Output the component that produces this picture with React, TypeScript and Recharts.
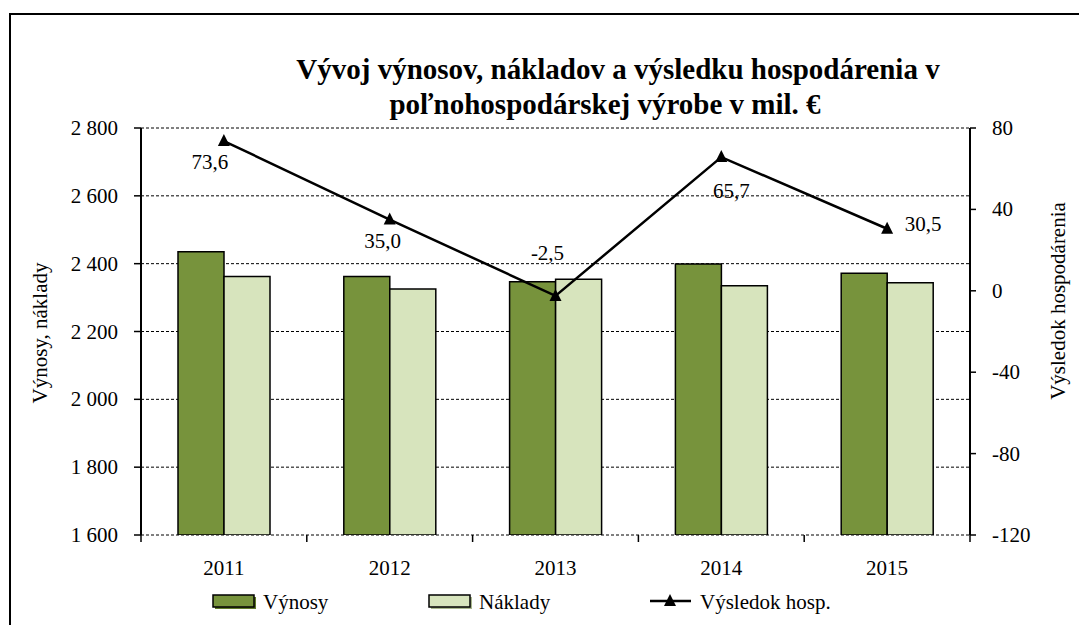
import React from 'react';
import { ComposedChart, Bar, Line, XAxis, YAxis, CartesianGrid, Legend, LabelList, Customized } from 'recharts';

const years = ['2011', '2012', '2013', '2014', '2015'];
const vynosy = [2435, 2362, 2347, 2399, 2372];
const naklady = [2362, 2325, 2354, 2335, 2344];
const vysledok = [73.6, 35.0, -2.5, 65.7, 30.5];
const leftTicks = [1600, 1800, 2000, 2200, 2400, 2600, 2800];
const rightTicks = [-120, -80, -40, 0, 40, 80];
const titleLines = ['Vývoj výnosov, nákladov a výsledku hospodárenia v', 'poľnohospodárskej výrobe v mil. €'];
const seriesNames = ['Výnosy', 'Náklady', 'Výsledok hosp.'];
const axisTitles = ['Výnosy, náklady', 'Výsledok hospodárenia'];

const data = years.map((y, i) => ({ year: y, vynosy: vynosy[i], naklady: naklady[i], vysledok: vysledok[i] }));

const FONT = 'Liberation Serif';
const FS = { fontFamily: FONT };
const W = 1079;
const H = 625;
const PLOT_LEFT = 141;
const PLOT_RIGHT = 970;
const PLOT_TOP = 128;
const PLOT_BOTTOM = 535;
const BAND = (PLOT_RIGHT - PLOT_LEFT) / years.length;
const DARK = '#77933C';
const LIGHT = '#D7E4BD';

const fmtThousands = (v: number) => {
  if (Math.abs(v) >= 1000) {
    const th = Math.floor(v / 1000);
    const rest = String(v % 1000).padStart(3, '0');
    return `${th} ${rest}`;
  }
  return String(v);
};

const fmtComma = (v: number) => v.toFixed(1).replace('.', ',');

const XTick = (props: any) => {
  const { x, index } = props;
  const left = x - BAND / 2;
  return (
    <g>
      <line x1={left} x2={left} y1={PLOT_BOTTOM} y2={PLOT_BOTTOM + 7} stroke="#000" strokeWidth={1.5} />
      {index === years.length - 1 && (
        <line x1={x + BAND / 2} x2={x + BAND / 2} y1={PLOT_BOTTOM} y2={PLOT_BOTTOM + 7} stroke="#000" strokeWidth={1.5} />
      )}
      <text x={x} y={PLOT_BOTTOM + 40} textAnchor="middle" style={FS} fontSize={21} fill="#000">
        {props.payload.value}
      </text>
    </g>
  );
};

const YTick = (props: any) => {
  const { x, y, payload, textAnchor, formatter } = props;
  return (
    <text x={x} y={y} dy={7} textAnchor={textAnchor} style={FS} fontSize={21} fill="#000">
      {formatter ? formatter(payload.value) : payload.value}
    </text>
  );
};

const labelOffsets = [
  [-14, 28],
  [-7, 28],
  [-8, -36],
  [10, 41],
  [36, 2],
];

const LineLabel = (props: any) => {
  const { x, y, index, value } = props;
  const [dx, dy] = labelOffsets[index] || [0, -10];
  return (
    <text x={x + dx} y={y + dy} textAnchor="middle" style={FS} fontSize={21} fill="#000">
      {fmtComma(value)}
    </text>
  );
};

const TriangleDot = (props: any) => {
  const { cx, cy, index } = props;
  if (cx == null || cy == null) return null;
  return <path key={`tri-${index}`} d={`M${cx},${cy - 7} L${cx + 6},${cy + 5} L${cx - 6},${cy + 5} Z`} fill="#000" />;
};

const LegendContent = () => {
  const boxY = 8;
  const textY = 22;
  return (
    <svg width={W} height={30} style={{ display: 'block' }}>
      <rect x={215} y={boxY + 2} width={41} height={12} fill="#5f7a2a" />
      <rect x={213} y={boxY} width={41} height={12} fill={DARK} stroke="#000" strokeWidth={1.5} />
      <text x={263} y={textY} style={FS} fontSize={21} fill="#000">{seriesNames[0]}</text>
      <rect x={431} y={boxY + 2} width={41} height={12} fill="#aab88f" />
      <rect x={429} y={boxY} width={41} height={12} fill={LIGHT} stroke="#000" strokeWidth={1.5} />
      <text x={479} y={textY} style={FS} fontSize={21} fill="#000">{seriesNames[1]}</text>
      <line x1={650} x2={691} y1={14} y2={14} stroke="#000" strokeWidth={2.5} />
      <path d={`M670,7 L676,19 L664,19 Z`} fill="#000" />
      <text x={700} y={textY} style={FS} fontSize={21} fill="#000">{seriesNames[2]}</text>
    </svg>
  );
};

const Titles = () => (
  <g>
    <text x={618} y={79} textAnchor="middle" style={FS} fontSize={29} fontWeight="bold" fill="#000">
      {titleLines[0]}
    </text>
    <text x={605} y={114} textAnchor="middle" style={FS} fontSize={29} fontWeight="bold" fill="#000">
      {titleLines[1]}
    </text>
    <text x={0} y={0} transform={`translate(47,333) rotate(-90)`} textAnchor="middle" style={FS} fontSize={21} fill="#000">
      {axisTitles[0]}
    </text>
    <text x={0} y={0} transform={`translate(1065,301) rotate(-90)`} textAnchor="middle" style={FS} fontSize={21} fill="#000">
      {axisTitles[1]}
    </text>
  </g>
);

export default function App() {
  return (
    <div style={{ position: 'absolute', left: 0, top: 0, width: W, height: H, background: '#fff', overflow: 'hidden' }}>
      <div
        style={{
          position: 'absolute',
          left: 9,
          top: 13,
          width: W - 9,
          height: H - 13,
          borderTop: '2px solid #000',
          borderLeft: '2px solid #000',
          boxSizing: 'border-box',
        }}
      />
      <ComposedChart
        width={W}
        height={H}
        data={data}
        margin={{ top: PLOT_TOP, right: W - PLOT_RIGHT - 60, bottom: H - PLOT_BOTTOM - 40, left: PLOT_LEFT - 80 }}
        barGap={0}
        style={{ position: 'absolute', left: 0, top: 0 }}
      >
        <CartesianGrid yAxisId="left" vertical={false} stroke="#000" strokeDasharray="3 2" strokeWidth={1} />
        <XAxis dataKey="year" height={40} axisLine={false} tickLine={false} tick={<XTick />} interval={0} />
        <YAxis
          yAxisId="left"
          width={80}
          domain={[1600, 2800]}
          ticks={leftTicks}
          axisLine={{ stroke: '#000', strokeWidth: 2 }}
          tickLine={{ stroke: '#000', strokeWidth: 1.5 }}
          tickSize={7}
          tickMargin={16}
          tick={<YTick formatter={fmtThousands} />}
          allowDataOverflow
        />
        <YAxis
          yAxisId="right"
          orientation="right"
          width={60}
          domain={[-120, 80]}
          ticks={rightTicks}
          axisLine={{ stroke: '#000', strokeWidth: 2 }}
          tickLine={{ stroke: '#000', strokeWidth: 1.5 }}
          tickSize={6}
          tickMargin={16}
          tick={<YTick />}
        />
        <Bar yAxisId="left" dataKey="vynosy" name={seriesNames[0]} fill={DARK} stroke="#000" strokeWidth={1.5} barSize={46} isAnimationActive={false} />
        <Bar yAxisId="left" dataKey="naklady" name={seriesNames[1]} fill={LIGHT} stroke="#000" strokeWidth={1.5} barSize={46} isAnimationActive={false} />
        <Line
          yAxisId="right"
          dataKey="vysledok"
          name={seriesNames[2]}
          stroke="#000"
          strokeWidth={2.5}
          dot={<TriangleDot />}
          activeDot={false}
          isAnimationActive={false}
        >
          <LabelList dataKey="vysledok" content={<LineLabel />} />
        </Line>
        <Legend
          layout="horizontal"
          verticalAlign="middle"
          align="center"
          content={<LegendContent />}
          wrapperStyle={{ position: 'absolute', top: 587, left: 0, width: W, height: 30 }}
        />
        <Customized component={<Titles />} />
      </ComposedChart>
    </div>
  );
}
